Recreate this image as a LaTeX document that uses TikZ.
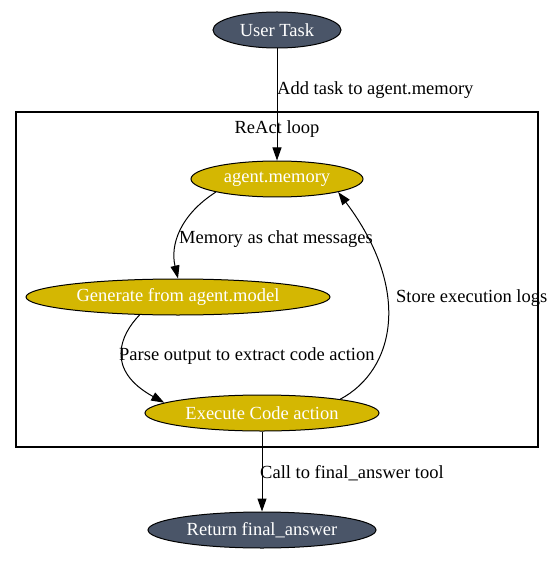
\documentclass[tikz,border=0pt]{standalone}
\usepackage{fontspec}
\setmainfont{Liberation Serif}
\usetikzlibrary{shapes.geometric,arrows.meta}
\definecolor{slate}{HTML}{4A5568}
\definecolor{gold}{HTML}{D4B702}
\tikzset{
  term/.style={ellipse,draw=black,line width=1pt,fill=slate,text=white,inner sep=0pt,font=\fontsize{18.5}{20}\selectfont},
  loopnode/.style={ellipse,draw=black,line width=1pt,fill=gold,text=white,inner sep=0pt,font=\fontsize{18.5}{20}\selectfont},
  lbl/.style={inner sep=0pt,anchor=west,font=\fontsize{18.5}{20}\selectfont},
  edge/.style={line width=1pt,-{Triangle[length=13pt,width=9pt]}},
  cluster/.style={draw=black,line width=1.1pt}
}
\begin{document}
\begin{tikzpicture}[x=1pt,y=-1pt]
\useasboundingbox (0,0) rectangle (553,561);
\draw[cluster] (16,112) rectangle (538,447);
\node[inner sep=0pt,font=\fontsize{18.5}{20}\selectfont] (cl) at (277,129) {ReAct loop};
\node[term,minimum width=128pt,minimum height=36pt] (user) at (277,30) {User Task};
\node[loopnode,minimum width=172pt,minimum height=36pt] (mem) at (277,179) {agent.memory};
\node[loopnode,minimum width=304pt,minimum height=36pt] (gen) at (178,297) {Generate from agent.model};
\node[loopnode,minimum width=234pt,minimum height=36pt] (exe) at (262,413) {Execute Code action};
\node[term,minimum width=228pt,minimum height=36pt] (ret) at (262,530) {Return final\_answer};
\draw[edge] (user) -- (mem);
\node[lbl] (l1) at (277,90) {Add task to agent.memory};
\draw[edge] (mem.south west) .. controls (180,215) and (170,245) .. (gen.north);
\node[lbl] (l2) at (179,239) {Memory as chat messages};
\draw[edge] (gen.205) .. controls (120,335) and (105,370) .. (exe.174);
\node[lbl] (l3) at (119,356) {Parse output to extract code action};
\draw[edge] (exe.10) .. controls (395,370) and (412,290) .. (mem.south east);
\node[lbl] (l4) at (396,298) {Store execution logs};
\draw[edge] (exe) -- (ret);
\node[lbl] (l5) at (260,473) {Call to final\_answer tool};
\end{tikzpicture}
\end{document}
